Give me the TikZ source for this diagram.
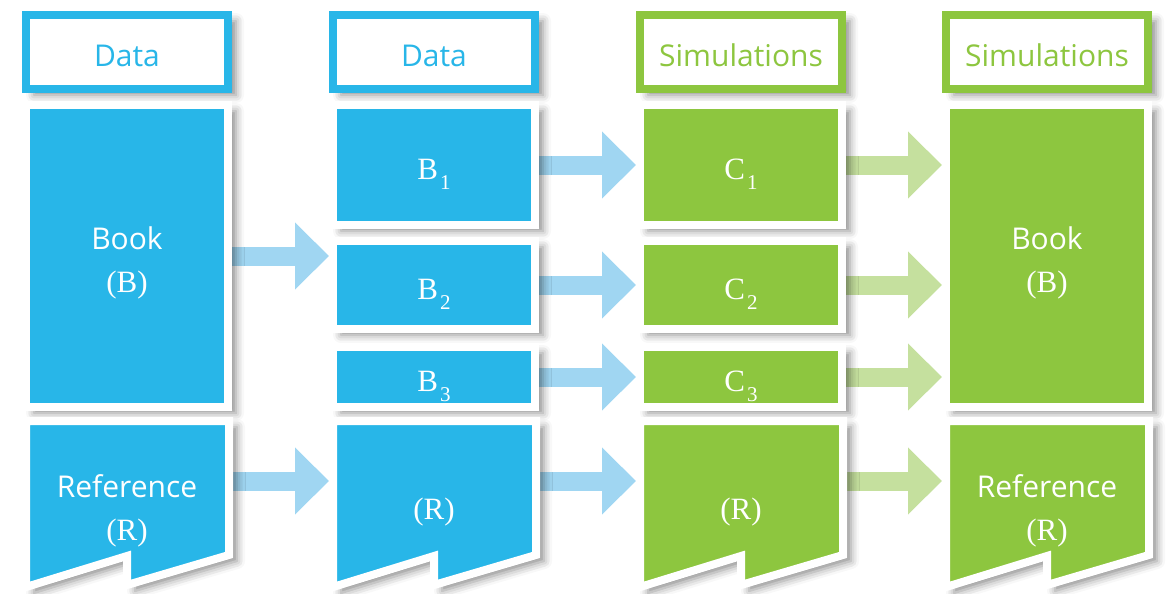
\documentclass[tikz,border=0pt]{standalone}
\usepackage{fontspec}
\setmainfont{Liberation Serif}
\setsansfont{Open Sans}
\usetikzlibrary{arrows.meta,shadows.blur,backgrounds}
\definecolor{data_blue}{RGB}{40,182,232}
\definecolor{sim_green}{RGB}{141,198,63}
\definecolor{data_arrow}{RGB}{160,214,242}
\definecolor{sim_arrow}{RGB}{197,224,158}
\tikzstyle{shade}=[blur shadow={shadow xshift=8pt,shadow yshift=-6pt,
  shadow blur radius=8pt,shadow opacity=45}]
\tikzstyle{hd}=[rectangle,fill=white,line width=8pt,minimum width=202pt,
  minimum height=74pt,text height=29pt,text depth=0pt,
  font=\sffamily\fontsize{30}{36}\selectfont,shade]
\tikzstyle{bx}=[rectangle,draw=white,line width=8pt,minimum width=202pt,shade]
\tikzstyle{pt}=[bx,text=white,text height=28pt,text depth=0pt,
  font=\fontsize{31}{36}\selectfont]
\tikzstyle{flag}=[draw=white,line width=8pt,shade]
\tikzstyle{wt}=[text=white,align=center,font=\fontsize{31}{43}\selectfont]
\tikzstyle{slot}=[rectangle,minimum width=210pt,minimum height=128pt,
  inner sep=0pt,outer sep=0pt]
\tikzstyle{ba}=[draw=data_arrow,line width=19pt,
  -{Triangle[length=34pt,width=65pt]}]
\tikzstyle{ga}=[draw=sim_arrow,line width=19pt,
  -{Triangle[length=34pt,width=65pt]}]
% subscript index, set low and large
\newcommand{\subidx}[1]{\kern2pt\raisebox{-10pt}{\fontsize{21}{21}\selectfont #1}}
% reference box with a notched bottom, #1 = left edge, #2 = fill
\newcommand{\refflag}[2]{%
  \filldraw[flag,fill=#2] (#1+4,421) -- (#1+207,421) -- (#1+207,555)
    -- (#1+105,585) -- (#1+105,556) -- (#1+4,587) -- cycle;}

\begin{document}
\begin{tikzpicture}[x=1pt,y=-1pt]
    \useasboundingbox (0,0) rectangle (1167,594);
    % headers
    \node [hd,draw=data_blue,text=data_blue] (h1) at (127,52) {Data};
    \node [hd,draw=data_blue,text=data_blue] (h2) at (434,52) {Data};
    \node [hd,draw=sim_green,text=sim_green] (h3) at (741,52) {Simulations};
    \node [hd,draw=sim_green,text=sim_green] (h4) at (1047,52) {Simulations};
    % books
    \node [bx,fill=data_blue,minimum height=302pt] (book1) at (127,256) {};
    \node [bx,fill=sim_green,minimum height=302pt] (book4) at (1047,256) {};
    \node [wt] (bt1) at (127,263) {{\sffamily\fontsize{30}{43}\selectfont Book}\\(B)};
    \node [wt] (bt4) at (1047,263) {{\sffamily\fontsize{30}{43}\selectfont Book}\\(B)};
    % parts
    \node [pt,fill=data_blue,minimum height=120pt] (b1) at (434,165) {B\subidx{1}};
    \node [pt,fill=data_blue,minimum height=88pt] (b2) at (434,285) {B\subidx{2}};
    \node [pt,fill=data_blue,minimum height=60pt] (b3) at (434,377) {B\subidx{3}};
    \node [pt,fill=sim_green,minimum height=120pt] (c1) at (741,165) {C\subidx{1}};
    \node [pt,fill=sim_green,minimum height=88pt] (c2) at (741,285) {C\subidx{2}};
    \node [pt,fill=sim_green,minimum height=60pt] (c3) at (741,377) {C\subidx{3}};
    % references
    \refflag{22}{data_blue}
    \refflag{329}{data_blue}
    \refflag{636}{sim_green}
    \refflag{942}{sim_green}
    \node [slot] (ref1) at (127,481) {};
    \node [slot] (ref2) at (434,481) {};
    \node [slot] (ref3) at (741,481) {};
    \node [slot] (ref4) at (1047,481) {};
    \node [wt] (rt1) at (127,511) {{\sffamily\fontsize{30}{43}\selectfont Reference}\\(R)};
    \node [wt] (rt2) at (434,512) {(R)};
    \node [wt] (rt3) at (741,512) {(R)};
    \node [wt] (rt4) at (1047,511) {{\sffamily\fontsize{30}{43}\selectfont Reference}\\(R)};
    % arrows go under the shadows
    \begin{scope}[on background layer]
    \draw [ba] (book1.east) to (book1.east -| b2.west);
    \draw [ba] (ref1.east) to (ref2.west);
    \draw [ba] (b1.east) to (c1.west);
    \draw [ba] (b2.east) to (c2.west);
    \draw [ba] (b3.east) to (c3.west);
    \draw [ba] (ref2.east) to (ref3.west);
    \draw [ga] (c1.east) to (c1.east -| book4.west);
    \draw [ga] (c2.east) to (c2.east -| book4.west);
    \draw [ga] (c3.east) to (c3.east -| book4.west);
    \draw [ga] (ref3.east) to (ref4.west);
    \end{scope}
\end{tikzpicture}
\end{document}
